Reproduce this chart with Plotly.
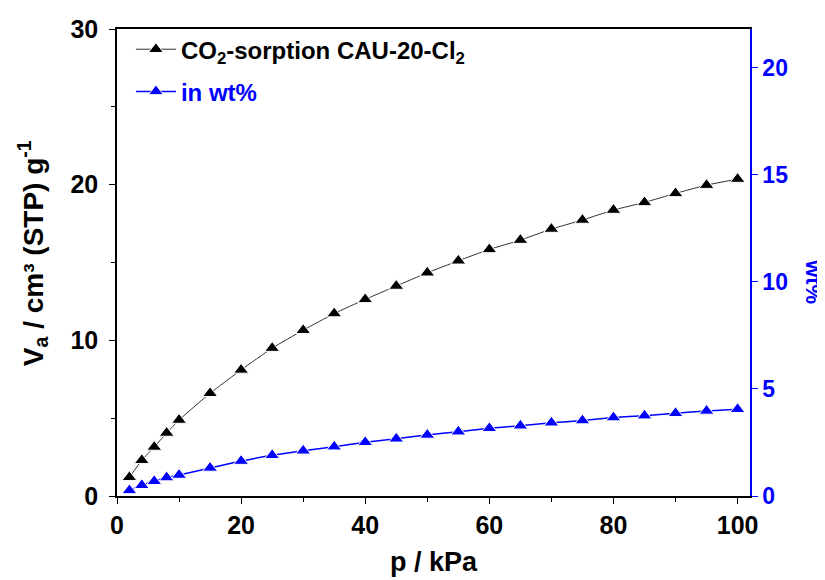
import plotly.graph_objects as go

pressure_kpa = [2, 4, 6, 8, 10, 15, 20, 25, 30, 35, 40, 45, 50, 55, 60, 65, 70, 75, 80, 85, 90, 95, 100]
uptake_cm3_g = [1.2, 2.3, 3.15, 4.05, 4.88, 6.6, 8.1, 9.5, 10.65, 11.72, 12.63, 13.49, 14.34, 15.11, 15.84,
                16.44, 17.15, 17.73, 18.37, 18.86, 19.44, 19.97, 20.36]
uptake_wt_pct = [0.26, 0.5, 0.69, 0.86, 0.98, 1.31, 1.63, 1.9, 2.11, 2.3, 2.51, 2.67, 2.85, 3.0, 3.16,
                 3.28, 3.42, 3.52, 3.66, 3.75, 3.86, 3.97, 4.05]

name_a = "CO<sub>2</sub>-sorption CAU-20-Cl<sub>2</sub>"
name_b = "<span style='color:#0000FF'>in wt%</span>"

FONT = "Liberation Sans, Arial, sans-serif"
BLUE = "#0000FF"

fig = go.Figure()
fig.add_trace(go.Scatter(
    x=pressure_kpa, y=uptake_cm3_g, name=name_a, legendgroup="a",
    mode="lines+markers",
    line=dict(color="#333333", width=1, shape="spline", smoothing=0.5),
    marker=dict(symbol="triangle-up", size=13, color="black", line=dict(color="white", width=1)),
))
fig.add_trace(go.Scatter(
    x=pressure_kpa, y=uptake_wt_pct, name=name_b, legendgroup="b", yaxis="y2",
    mode="lines+markers",
    line=dict(color=BLUE, width=1.5, shape="spline", smoothing=0.5),
    marker=dict(symbol="triangle-up", size=13, color=BLUE, line=dict(color="white", width=1)),
))

# page body has an 8px margin, so the figure is shifted by 8px; compensate
fig.update_layout(
    width=817, height=572,
    margin=dict(l=109, r=75, t=21, b=84),
    paper_bgcolor="white", plot_bgcolor="white",
    font=dict(family=FONT, size=24, color="black", weight="bold"),
    showlegend=True,
    legend=dict(x=0.022, y=1.004, xanchor="left", yanchor="top", bgcolor="rgba(0,0,0,0)",
                font=dict(family=FONT, size=24, color="black", weight="bold"),
                traceorder="grouped", tracegroupgap=8, itemwidth=40),
    xaxis=dict(
        range=[0, 102], dtick=20, tick0=0, automargin=False,
        showline=True, linecolor="black", linewidth=1.5, mirror=True,
        ticks="outside", ticklen=6, tickwidth=1.2, tickcolor="black",
        minor=dict(dtick=10, ticks="outside", ticklen=4, tickwidth=1.2, tickcolor="black"),
        showgrid=False, zeroline=False,
        tickfont=dict(family=FONT, size=25, color="black", weight="bold"),
        title=dict(text="p / kPa", font=dict(family=FONT, size=27, color="black", weight="bold"), standoff=14),
    ),
    yaxis=dict(
        range=[0, 30], dtick=10, automargin=False,
        showline=True, linecolor="black", linewidth=1.5, mirror=False,
        ticks="outside", ticklen=6, tickwidth=1.2, tickcolor="black", ticklabelstandoff=6,
        minor=dict(dtick=5, ticks="outside", ticklen=4, tickwidth=1.2, tickcolor="black"),
        showgrid=False, zeroline=False,
        tickfont=dict(family=FONT, size=25, color="black", weight="bold"),
    ),
    yaxis2=dict(
        range=[0, 21.8], dtick=5, overlaying="y", side="right", automargin=False,
        showline=True, linecolor=BLUE, linewidth=1.5,
        ticks="outside", ticklen=6, tickwidth=1.2, tickcolor=BLUE,
        showgrid=False, zeroline=False,
        tickfont=dict(family=FONT, size=23, color=BLUE, weight="bold"),
    ),
)

fig.add_annotation(
    text="V<sub>a</sub> / cm³ (STP) g<sup>-1</sup>", textangle=-90,
    xref="paper", yref="paper", x=0, y=0.52, xanchor="center", yanchor="middle", xshift=-84,
    showarrow=False, font=dict(family=FONT, size=28, color="black", weight="bold"),
)
fig.add_annotation(
    text="wt%", textangle=90,
    xref="paper", yref="paper", x=1, y=0.46, xanchor="center", yanchor="middle", xshift=64,
    showarrow=False, font=dict(family=FONT, size=22, color=BLUE, weight="bold"),
)

fig.write_html("out.html")
